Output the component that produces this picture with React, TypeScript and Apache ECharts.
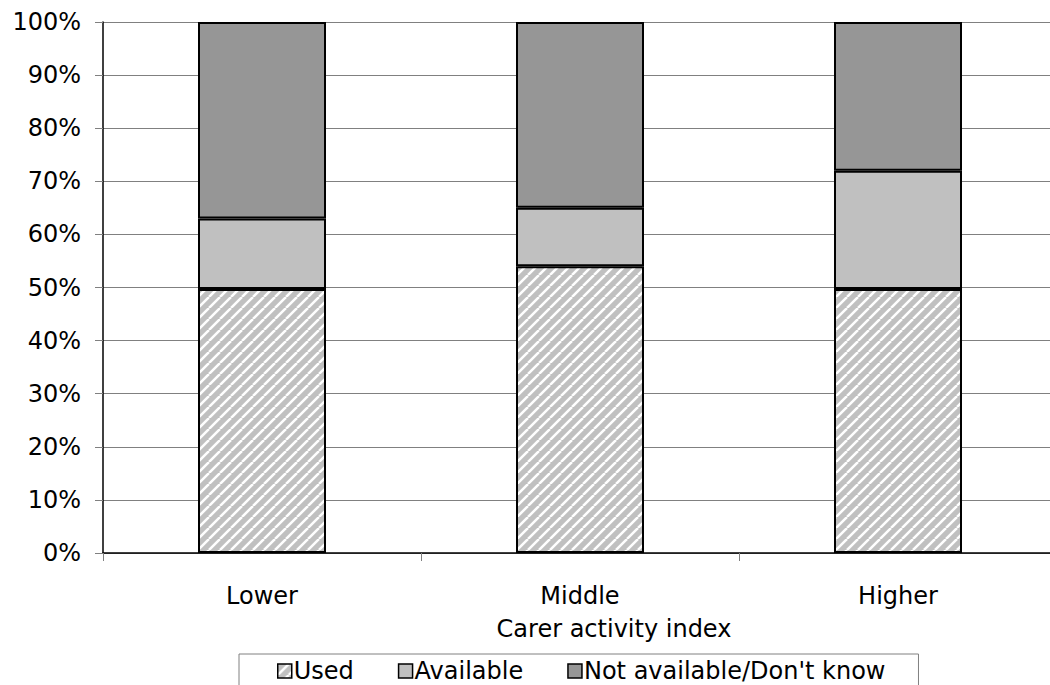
import React, { useEffect, useRef } from "react";
import * as echarts from "echarts";

const categories = ["Lower", "Middle", "Higher"];
const usedValues = [49.7, 54.0, 49.7];
const availableValues = [13.3, 11.0, 22.3];
const notAvailableValues = [37.0, 35.0, 28.0];
const seriesNames = ["Used", "Available", "Not available/Don't know"];
const FONT = "'DejaVu Sans', 'Liberation Sans', Arial, sans-serif";

function makeHatch(): HTMLCanvasElement {
  const s = 11;
  const c = document.createElement("canvas");
  c.width = s;
  c.height = s;
  const ctx = c.getContext("2d")!;
  ctx.fillStyle = "#c0c0c0";
  ctx.fillRect(0, 0, s, s);
  ctx.strokeStyle = "#ffffff";
  ctx.lineWidth = 2.5;
  for (let k = -1; k <= 1; k++) {
    ctx.beginPath();
    ctx.moveTo(k * s, s);
    ctx.lineTo(k * s + s, 0);
    ctx.stroke();
  }
  return c;
}

export default function App() {
  const ref = useRef<HTMLDivElement>(null);
  useEffect(() => {
    if (!ref.current) return;
    const chart = echarts.init(ref.current, undefined, { renderer: "svg" });
    const hatch = makeHatch();
    const border = { borderColor: "#000000", borderWidth: 2 };
    chart.setOption({
      animation: false,
      textStyle: { fontFamily: FONT },
      grid: { left: 103, top: 22, width: 954, height: 531 },
      legend: {
        left: 239,
        top: 654,
        orient: "horizontal",
        backgroundColor: "#ffffff",
        borderColor: "#808080",
        borderWidth: 1,
        borderRadius: 0,
        padding: [5, 33, 10, 38],
        itemGap: 44,
        itemWidth: 14,
        itemHeight: 14,
        icon: "rect",
        itemStyle: { borderColor: "#000000", borderWidth: 1.5 },
        textStyle: { fontSize: 24, color: "#000000", fontFamily: FONT, padding: [0, 0, 0, -3] },
        data: seriesNames,
      },
      xAxis: {
        type: "category",
        data: categories,
        name: "Carer activity index",
        nameLocation: "middle",
        nameGap: 64,
        nameTextStyle: { fontSize: 24, color: "#000000", fontFamily: FONT, padding: [0, 0, 0, 68] },
        axisLine: { lineStyle: { color: "#000000", width: 1.5 } },
        axisTick: { show: true, length: 8, inside: false, lineStyle: { color: "#808080" } },
        axisLabel: { fontSize: 24, color: "#000000", margin: 31, fontFamily: FONT },
        splitLine: { show: false },
      },
      yAxis: {
        type: "value",
        min: 0,
        max: 100,
        interval: 10,
        axisLine: { show: true, lineStyle: { color: "#000000", width: 1.5 } },
        axisTick: { show: true, length: 8, lineStyle: { color: "#808080" } },
        axisLabel: { formatter: "{value}%", fontSize: 24, color: "#000000", margin: 22, fontFamily: FONT },
        splitLine: { show: true, lineStyle: { color: "#808080", width: 1 } },
      },
      series: [
        {
          name: seriesNames[0],
          type: "bar",
          stack: "total",
          barWidth: 128,
          data: usedValues,
          itemStyle: { color: { image: hatch, repeat: "repeat" }, ...border },
        },
        {
          name: seriesNames[1],
          type: "bar",
          stack: "total",
          barWidth: 128,
          data: availableValues,
          itemStyle: { color: "#c0c0c0", ...border },
        },
        {
          name: seriesNames[2],
          type: "bar",
          stack: "total",
          barWidth: 128,
          data: notAvailableValues,
          itemStyle: { color: "#969696", ...border },
        },
      ],
    });
    return () => chart.dispose();
  }, []);
  return (
    <div style={{ position: "absolute", left: 0, top: 0, width: 1050, height: 685, overflow: "hidden", background: "#ffffff" }}>
      <div ref={ref} style={{ width: 1070, height: 685 }} />
    </div>
  );
}
